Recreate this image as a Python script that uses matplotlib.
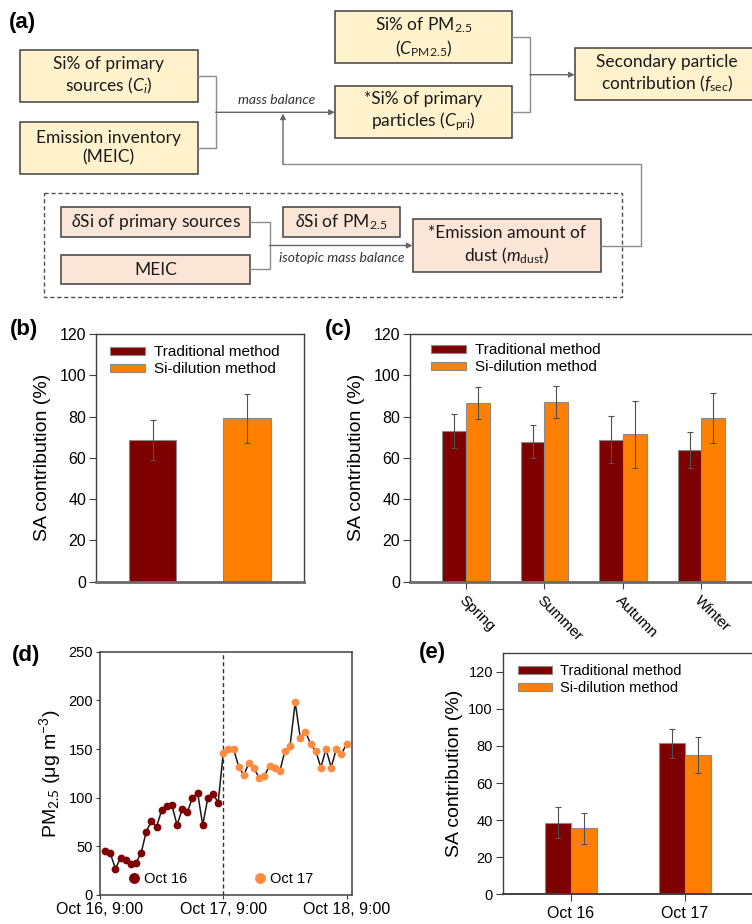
import matplotlib

matplotlib.use("Agg")
import matplotlib.pyplot as plt
import numpy as np
from matplotlib.patches import Rectangle

plt.rcParams["font.family"] = ["Liberation Sans", "DejaVu Sans"]
plt.rcParams["mathtext.fontset"] = "custom"
plt.rcParams["mathtext.rm"] = "Lato"
plt.rcParams["mathtext.it"] = "Lato:italic"
plt.rcParams["mathtext.bf"] = "Lato:bold"

DARK_RED = "#7f0000"
ORANGE = "#ff8000"
ORANGE_DOT = "#ff8c40"
BOX_YELLOW = "#fff2cc"
BOX_PINK = "#fbe5d6"
LINE = "#8c8c8c"

methods = ["Traditional method", "Si-dilution method"]

# (b) whole period
annual_mean = [68.6, 79.1]
annual_err = [9.8, 11.7]

# (c) by season
seasons = ["Spring", "Summer", "Autumn", "Winter"]
season_trad = [73.0, 67.8, 68.8, 63.8]
season_trad_err = [8.3, 7.9, 11.5, 8.7]
season_si = [86.7, 87.2, 71.4, 79.3]
season_si_err = [7.7, 7.8, 16.2, 12.3]

# (d) hourly PM2.5, hours after Oct 16 9:00
time_ticks = [0, 24, 48]
time_labels = ["Oct 16, 9:00", "Oct 17, 9:00", "Oct 18, 9:00"]
oct16_hours = list(range(1, 24))
oct16_pm = [45, 43, 27, 38, 36, 32, 33, 43, 65, 76, 70, 87, 91, 92, 72,
            88, 85, 100, 105, 72, 100, 104, 95]
oct17_hours = list(range(24, 49))
oct17_pm = [146, 150, 150, 132, 123, 136, 130, 120, 122, 133, 130, 127, 148,
            153, 198, 161, 168, 155, 148, 131, 150, 131, 150, 145, 155]

# (e) episode days
days = ["Oct 16", "Oct 17"]
day_trad = [38.7, 81.4]
day_trad_err = [8.5, 8.0]
day_si = [35.5, 75.1]
day_si_err = [8.5, 9.7]

W, H = 752, 924
fig = plt.figure(figsize=(W / 100, H / 100), dpi=100)


def px_axes(left, top, right, bottom):
    return fig.add_axes([left / W, 1 - bottom / H, (right - left) / W, (bottom - top) / H])


# overlay in pixel coordinates for the flow chart and panel letters
ov = fig.add_axes([0, 0, 1, 1])
ov.set_xlim(0, W)
ov.set_ylim(H, 0)
ov.axis("off")


def box(x0, y0, x1, y1, text, face, size=12.5):
    ov.add_patch(Rectangle((x0, y0), x1 - x0, y1 - y0, facecolor=face,
                           edgecolor="#404040", lw=1.1))
    ov.text((x0 + x1) / 2, (y0 + y1) / 2, text, ha="center", va="center",
            fontsize=size, family=["Lato", "DejaVu Sans"], linespacing=1.25,
            color="#1a1a1a")


def path(xs, ys):
    ov.plot(xs, ys, color=LINE, lw=1.0, solid_joinstyle="miter")


def arrow(start, end):
    ov.annotate("", xy=end, xytext=start,
                arrowprops=dict(arrowstyle="-|>", color="#666666", lw=1.0,
                                mutation_scale=8, shrinkA=0, shrinkB=0))


box(20, 50, 197.6, 101.7, "Si% of primary\nsources ($C_i$)", BOX_YELLOW)
box(20, 122, 197.6, 174.3, "Emission inventory\n(MEIC)", BOX_YELLOW)
box(334.8, 11, 512.2, 63.3, "Si% of PM$_{2.5}$\n($C_{\\mathrm{PM2.5}}$)", BOX_YELLOW)
box(334.8, 86, 512.2, 137.7, "*Si% of primary\nparticles ($C_{\\mathrm{pri}}$)", BOX_YELLOW)
box(574.6, 47.7, 760, 100, "Secondary particle\ncontribution ($f_{\\mathrm{sec}}$)", BOX_YELLOW)

ov.add_patch(Rectangle((44, 193.3), 577.6, 103.4, facecolor="none",
                       edgecolor="#505050", lw=1.0, ls=(0, (3, 2))))
box(61.4, 206.7, 250.4, 237.3, "$\\delta$Si of primary sources", BOX_PINK)
box(61.4, 255, 250.4, 284.3, "MEIC", BOX_PINK)
box(283, 206.7, 399.5, 237.3, "$\\delta$Si of PM$_{2.5}$", BOX_PINK)
box(412.5, 219.3, 601, 271.7, "*Emission amount of\ndust ($m_{\\mathrm{dust}}$)", BOX_PINK)

path([197.6, 215.8, 215.8, 197.6], [76, 76, 148.3, 148.3])
arrow((215.8, 112.3), (334.8, 112.3))
path([601, 641.3, 641.3, 283], [246, 246, 164.3, 164.3])
arrow((283, 164.3), (283, 113.5))
path([512.2, 530, 530, 512.2], [37, 37, 111.7, 111.7])
arrow((530, 74.7), (574.6, 74.7))
path([250.4, 269.5, 269.5, 250.4], [221.7, 221.7, 269.3, 269.3])
arrow((269.5, 245.5), (412.5, 245.5))

ov.text(276.7, 99.5, "mass balance", ha="center", va="center", fontsize=10,
        style="italic", family=["Lato", "DejaVu Sans"], color="#333333")
ov.text(341.5, 258.5, "isotopic mass balance", ha="center", va="center",
        fontsize=10, style="italic", family=["Lato", "DejaVu Sans"], color="#333333")

for label, x, y in [("(a)", 9, 12), ("(b)", 10, 319), ("(c)", 325, 319),
                    ("(d)", 12, 645), ("(e)", 419, 642)]:
    ov.text(x, y, label, ha="left", va="top", fontsize=16, fontweight="bold")

err_style = dict(ecolor="#505050", elinewidth=0.8, capsize=2.5, capthick=0.8)


def style_axes(ax, ysize):
    for s in ["left", "top", "right"]:
        ax.spines[s].set_color("#404040")
        ax.spines[s].set_linewidth(1.0)
    ax.spines["bottom"].set_color("#6a6a6a")
    ax.spines["bottom"].set_linewidth(2.0)
    ax.tick_params(axis="y", direction="out", length=5, width=0.8,
                   color="#404040", labelsize=ysize, pad=2)
    ax.tick_params(axis="x", direction="out", length=5, width=0.8, color="#404040")


def bar_legend(ax, anchor, size):
    ax.legend(loc="upper left", bbox_to_anchor=anchor, frameon=False,
              fontsize=size, borderpad=0, borderaxespad=0, handlelength=2.3,
              handleheight=0.45, handletextpad=0.6, labelspacing=0.2)


# (b)
ax_b = px_axes(96, 334, 303.6, 581.7)
for i, (m, e, c) in enumerate(zip(annual_mean, annual_err, [DARK_RED, ORANGE])):
    ax_b.bar(i, m, width=0.5, yerr=e, color=c, edgecolor="#8a8a8a", lw=0.8,
             error_kw=err_style, label=methods[i])
ax_b.set_xlim(-0.6, 1.6)
ax_b.set_ylim(0, 120)
ax_b.set_yticks(range(0, 121, 20))
ax_b.set_xticks([])
style_axes(ax_b, 11.5)
ax_b.set_ylabel("SA contribution (%)", fontsize=14, labelpad=6)
bar_legend(ax_b, (0.067, 0.955), 11)

# (c)
ax_c = px_axes(410, 334, 757, 581.7)
xc = np.arange(len(seasons))
ax_c.bar(xc - 0.15, season_trad, width=0.3, yerr=season_trad_err, color=DARK_RED,
         edgecolor="#8a8a8a", lw=0.8, error_kw=err_style, label=methods[0])
ax_c.bar(xc + 0.15, season_si, width=0.3, yerr=season_si_err, color=ORANGE,
         edgecolor="#8a8a8a", lw=0.8, error_kw=err_style, label=methods[1])
ax_c.set_xlim(-0.713, 3.707)
ax_c.set_ylim(0, 120)
ax_c.set_yticks(range(0, 121, 20))
ax_c.set_xticks(xc)
ax_c.set_xticklabels(seasons, rotation=-45, ha="left", rotation_mode="anchor",
                     fontsize=11)
style_axes(ax_c, 11.5)
ax_c.set_ylabel("SA contribution (%)", fontsize=14, labelpad=6)
bar_legend(ax_c, (0.06, 0.962), 11)

# (d)
ax_d = px_axes(100, 651.7, 351.7, 895)
ax_d.plot(oct16_hours + oct17_hours, oct16_pm + oct17_pm, color="#1a1a1a",
          lw=1.1, zorder=2)
ax_d.plot(oct16_hours, oct16_pm, "o", color=DARK_RED, ms=5.6, mew=0,
          label="Oct 16", zorder=3)
ax_d.plot(oct17_hours, oct17_pm, "o", color=ORANGE_DOT, ms=5.6, mew=0,
          label="Oct 17", zorder=3)
ax_d.axvline(24, color="#333333", lw=1.0, ls=(0, (3, 2)), zorder=1)
ax_d.set_xlim(0, 49)
ax_d.set_ylim(0, 250)
ax_d.set_xticks(time_ticks)
ax_d.set_xticklabels(time_labels, fontsize=11.5)
ax_d.set_yticks(range(0, 251, 50))
for s in ax_d.spines.values():
    s.set_color("#404040")
    s.set_linewidth(1.1)
ax_d.tick_params(axis="both", direction="out", length=3, width=0.8,
                 color="#404040", pad=2)
ax_d.tick_params(axis="y", labelsize=10.5)
ax_d.set_ylabel("PM$_{2.5}$ (μg m$^{-3}$)", fontsize=14, labelpad=4)
ax_d.legend(loc="center", bbox_to_anchor=(0.48, 0.065), ncol=2, frameon=False,
            fontsize=10.5, markerscale=1.4, handlelength=0.8, handletextpad=0.3,
            columnspacing=4.6, borderpad=0)

# (e)
ax_e = px_axes(502.7, 653.3, 753, 894.3)
xe = np.arange(len(days))
ax_e.bar(xe - 0.115, day_trad, width=0.23, yerr=day_trad_err, color=DARK_RED,
         edgecolor="#8a8a8a", lw=0.8, error_kw=err_style, label=methods[0])
ax_e.bar(xe + 0.115, day_si, width=0.23, yerr=day_si_err, color=ORANGE,
         edgecolor="#8a8a8a", lw=0.8, error_kw=err_style, label=methods[1])
ax_e.set_xlim(-0.6, 1.6)
ax_e.set_ylim(0, 130)
ax_e.set_yticks(range(0, 121, 20))
ax_e.set_xticks(xe)
ax_e.set_xticklabels(days, fontsize=11.5)
style_axes(ax_e, 10.5)
ax_e.spines["bottom"].set_color("#404040")
ax_e.spines["bottom"].set_linewidth(1.4)
ax_e.set_ylabel("SA contribution (%)", fontsize=14, labelpad=4)
bar_legend(ax_e, (0.061, 0.956), 10.5)

fig.savefig("out.png", dpi=100)
plt.close(fig)
